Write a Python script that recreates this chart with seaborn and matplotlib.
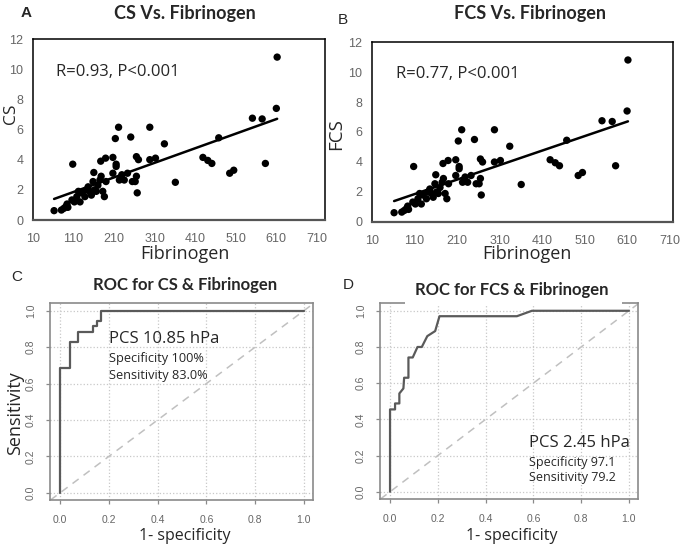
import numpy as np
import pandas as pd
import seaborn as sns
import matplotlib
matplotlib.use("Agg")
import matplotlib.pyplot as plt
from matplotlib.patches import Rectangle

sns.set_style("white")

# ---------------- data ----------------
fibrinogen = [62, 80, 86, 91, 94, 96, 108, 106, 112, 118, 122, 126, 130, 138, 142, 146,
              150, 154, 158, 160, 162, 166, 170, 175, 177, 178, 182, 186, 189, 190, 207,
              207, 213, 215, 215, 221, 223, 229, 235, 243, 251, 255, 262, 265, 265, 270,
              267, 298, 298, 312, 334, 361, 429, 441, 451, 468, 495, 505, 551, 575, 583,
              610, 612]
cs = [0.62, 0.66, 0.77, 0.89, 1.06, 0.84, 3.7, 1.33, 1.2, 1.55, 1.9, 1.2, 1.8, 1.55, 2.0, 2.2,
      1.9, 1.65, 2.55, 3.15, 2.0, 1.9, 2.3, 2.65, 3.9, 2.9, 1.9, 1.55, 4.1, 2.55, 3.1,
      4.15, 5.4, 3.7, 3.55, 6.15, 2.65, 3.0, 2.65, 3.1, 5.5, 2.55, 2.55, 2.9, 4.2, 4.0,
      1.8, 6.15, 4.0, 4.1, 5.05, 2.5, 4.15, 3.95, 3.75, 5.45, 3.1, 3.3, 6.75, 6.7, 3.75,
      7.4, 10.8]
fcs = list(cs)

roc_cs_fpr = [0.0, 0.0, 0.04, 0.04, 0.075, 0.075, 0.133, 0.133, 0.15, 0.15, 0.167, 0.167, 1.0]
roc_cs_tpr = [0.0, 0.685, 0.685, 0.83, 0.83, 0.885, 0.885, 0.916, 0.916, 0.945, 0.945, 1.0, 1.0]

roc_fcs_fpr = [0.0, 0.0, 0.021, 0.021, 0.039, 0.039, 0.056, 0.059, 0.077, 0.077, 0.095,
               0.115, 0.133, 0.156, 0.189, 0.207, 0.531, 0.594, 1.0]
roc_fcs_tpr = [0.0, 0.455, 0.455, 0.488, 0.488, 0.543, 0.571, 0.63, 0.63, 0.742, 0.742,
               0.80, 0.80, 0.86, 0.888, 0.97, 0.97, 1.0, 1.0]

x_ticks_scatter = [10, 110, 210, 310, 410, 510, 610, 710]
y_ticks_scatter = [0, 2, 4, 6, 8, 10, 12]
roc_ticks = [0.0, 0.2, 0.4, 0.6, 0.8, 1.0]

# ---------------- figure ----------------
W, H = 685, 548
fig = plt.figure(figsize=(W / 100, H / 100), dpi=100)

def ax_px(l, t, r, b):
    return fig.add_axes([l / W, 1 - b / H, (r - l) / W, (b - t) / H])

def ftext(x, y, s, **kw):
    fig.text(x / W, 1 - y / H, s, ha="center", va="center", **kw)

TITLE_FONT = ["Lato", "DejaVu Sans"]
TEXT_FONT = ["Open Sans", "DejaVu Sans"]
TICK_FONT = ["Liberation Sans Narrow", "Liberation Sans", "DejaVu Sans"]
TICK_COLOR = "#666666"

def scatter_panel(ax, x, y, xlim, rtext):
    df = pd.DataFrame({"Fibrinogen": x, "val": y})
    sns.scatterplot(data=df, x="Fibrinogen", y="val", ax=ax, color="black",
                    s=28, edgecolor="none", zorder=3)
    sns.regplot(data=df, x="Fibrinogen", y="val", ax=ax, scatter=False, ci=None,
                color="black", line_kws={"linewidth": 1.8})
    ax.set_xlim(*xlim)
    ax.set_ylim(0, 12)
    ax.set_xticks(x_ticks_scatter)
    ax.set_yticks(y_ticks_scatter)
    ax.set_xticklabels([str(v) for v in x_ticks_scatter], family=TICK_FONT,
                       fontsize=9, color=TICK_COLOR)
    ax.set_yticklabels([str(v) for v in y_ticks_scatter], family=TICK_FONT,
                       fontsize=9, color=TICK_COLOR)
    ax.tick_params(axis="both", length=0)
    ax.tick_params(axis="x", pad=9)
    ax.tick_params(axis="y", pad=7)
    for s in ax.spines.values():
        s.set_visible(True)
        s.set_color("black")
        s.set_linewidth(1.1)
    ax.spines["bottom"].set_color("#555555")
    ax.spines["bottom"].set_linewidth(1.6)
    ax.set_xlabel("")
    ax.set_ylabel("")
    ax.text(0.08, 0.82, rtext, transform=ax.transAxes, family=TEXT_FONT,
            fontsize=12, va="center", ha="left")

def roc_panel(ax, fpr, tpr):
    ax.grid(True, color="#c8c8c8", linestyle=":", linewidth=0.9)
    ax.axline((0, 0), slope=1, color="#c0c0c0", linestyle=(0, (5, 4)), linewidth=1.1)
    df = pd.DataFrame({"fpr": fpr, "tpr": tpr})
    sns.lineplot(data=df, x="fpr", y="tpr", ax=ax, sort=False, estimator=None,
                 color="#5a5a5a", linewidth=1.6)
    ax.set_xlim(-0.042, 1.038)
    ax.set_ylim(-0.04, 1.043)
    ax.set_xticks(roc_ticks)
    ax.set_yticks(roc_ticks)
    ax.set_xticklabels([f"{v:.1f}" for v in roc_ticks], family=TICK_FONT,
                       fontsize=7.5, color=TICK_COLOR)
    ax.set_yticklabels([f"{v:.1f}" for v in roc_ticks], family=TICK_FONT,
                       fontsize=7.5, color=TICK_COLOR, rotation=90, va="center")
    ax.tick_params(axis="both", length=3, width=0.9, color="#8a8a8a",
                   bottom=True, left=True, direction="out")
    ax.tick_params(axis="x", pad=8)
    ax.tick_params(axis="y", pad=7)
    for s in ax.spines.values():
        s.set_visible(True)
        s.set_color("#8a8a8a")
        s.set_linewidth(1.2)
    ax.set_xlabel("")
    ax.set_ylabel("")

# Panel A
axA = ax_px(33, 39, 325, 220)
scatter_panel(axA, fibrinogen, cs, (10, 730), "R=0.93, P<0.001")
# Panel B
axB = ax_px(372, 42, 673, 222)
scatter_panel(axB, fibrinogen, fcs, (10, 718), "R=0.77, P<0.001")
# Panel C
axC = ax_px(50, 303, 313, 500)
roc_panel(axC, roc_cs_fpr, roc_cs_tpr)
# Panel D
axD = ax_px(380, 303, 638, 499)
roc_panel(axD, roc_fcs_fpr, roc_fcs_tpr)

# Axis labels
ftext(185, 254, "Fibrinogen", family=TEXT_FONT, fontsize=13)
ftext(527, 254, "Fibrinogen", family=TEXT_FONT, fontsize=13)
ftext(11, 114, "CS", family=TEXT_FONT, fontsize=12.5, rotation=90)
ftext(336, 134, "FCS", family=TEXT_FONT, fontsize=13.5, rotation=90)
ftext(15, 413, "Sensitivity", family=TEXT_FONT, fontsize=13, rotation=90)
ftext(185, 536, "1- specificity", family=TEXT_FONT, fontsize=11.5)
ftext(512, 536, "1- specificity", family=TEXT_FONT, fontsize=11.5)

# Annotations
axC.text(0.224, 0.817, "PCS 10.85 hPa", transform=axC.transAxes, family=TEXT_FONT,
         fontsize=12, va="center", ha="left")
axC.text(0.224, 0.716, "Specificity 100%", transform=axC.transAxes, family=TEXT_FONT,
         fontsize=9.2, va="center", ha="left")
axC.text(0.224, 0.63, "Sensitivity 83.0%", transform=axC.transAxes, family=TEXT_FONT,
         fontsize=9.2, va="center", ha="left")

axD.text(0.577, 0.286, "PCS 2.45 hPa", transform=axD.transAxes, family=TEXT_FONT,
         fontsize=12, va="center", ha="left")
axD.text(0.577, 0.188, "Specificity 97.1", transform=axD.transAxes, family=TEXT_FONT,
         fontsize=9, va="center", ha="left")
axD.text(0.577, 0.112, "Sensitivity 79.2", transform=axD.transAxes, family=TEXT_FONT,
         fontsize=9, va="center", ha="left")

# white gap in D's top frame behind title
fig.add_artist(Rectangle((405 / W, 1 - 306 / H), (622 - 405) / W, 6 / H,
                         transform=fig.transFigure, facecolor="white",
                         edgecolor="none", zorder=10))

# Titles and panel letters
ftext(185, 13, "CS Vs. Fibrinogen", family=TITLE_FONT, fontsize=13, fontweight="bold")
ftext(530, 13, "FCS Vs. Fibrinogen", family=TITLE_FONT, fontsize=13, fontweight="bold")
ftext(185, 285, "ROC for CS & Fibrinogen", family=TITLE_FONT, fontsize=12, fontweight="bold")
ftext(512, 290, "ROC for FCS & Fibrinogen", family=TITLE_FONT, fontsize=12, fontweight="bold")

ftext(26, 13, "A", family=["Liberation Sans", "DejaVu Sans"], fontsize=11, fontweight="bold")
ftext(343, 20, "B", family=["Liberation Sans", "DejaVu Sans"], fontsize=11)
ftext(17, 277, "C", family=["Liberation Sans", "DejaVu Sans"], fontsize=11)
ftext(348, 285, "D", family=["Liberation Sans", "DejaVu Sans"], fontsize=11)

fig.savefig("out.png", dpi=100, facecolor="white")
